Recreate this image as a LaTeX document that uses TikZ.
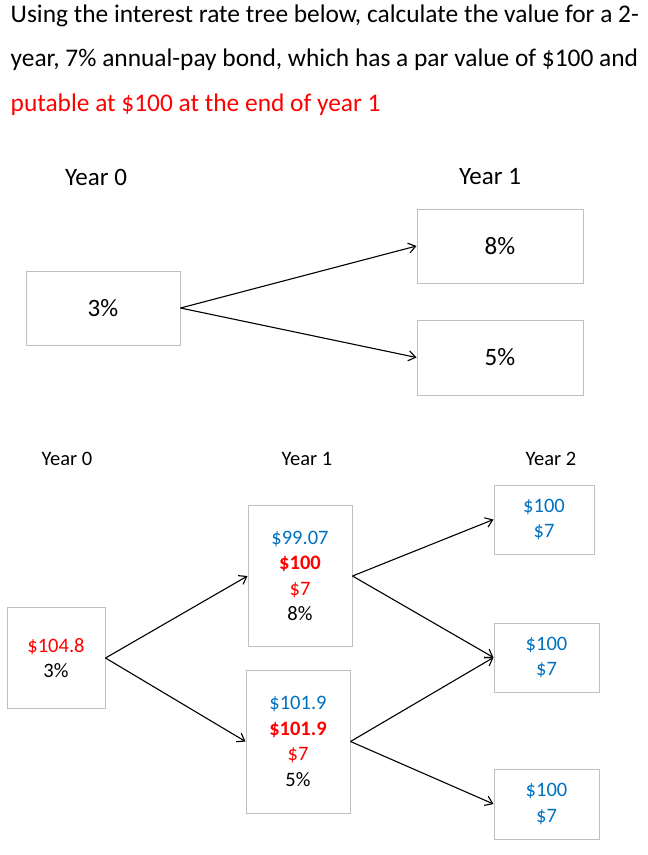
\documentclass[tikz,border=0pt]{standalone}
\usepackage{fontspec}
\setmainfont{Carlito}
\usepackage{tikz}
\usetikzlibrary{arrows.meta, positioning}
\usepackage{xcolor}
\definecolor{putred}{HTML}{FF0000}
\definecolor{valblue}{HTML}{0070C0}
\definecolor{boxgray}{HTML}{BFBFBF}
\tikzset{%
	rate box/.style={
		draw=boxgray,
		line width=1pt,
		inner sep=0pt,
		align=center
	},
	big text/.style={
		font=\fontsize{25}{30}\selectfont
	},
	small text/.style={
		font=\fontsize{20.5}{25.5}\selectfont
	},
	question line/.style={
		anchor=base west,
		inner sep=0pt,
		font=\fontsize{25.4}{30}\selectfont
	},
	branch/.style={
		-{Straight Barb[length=7pt,width=10pt]},
		line width=1.1pt
	},
}

\begin{document}
\begin{tikzpicture}[x=1pt,y=-1pt]
			\useasboundingbox (0,0) rectangle (648,855);

			% Draw the question
			\node[question line] (q1) at (10.5,22) {Using the interest rate tree below, calculate the value for a 2-};
			\node[question line] (q2) at (10.5,66) {year, 7\% annual-pay bond, which has a par value of \$100 and};
			\node[question line, text=putred] (q3) at (10.5,111) {putable at \$100 at the end of year 1};

			% Draw the rate tree
			\node[big text] (ty0) at (96,177) {Year 0};
			\node[big text] (ty1) at (490,177) {Year 1};
			\node[rate box, big text, minimum width=154pt, minimum height=74pt] (r0) at (103,308) {3\%};
			\node[rate box, big text, minimum width=166pt, minimum height=74pt] (rup) at (500,246) {8\%};
			\node[rate box, big text, minimum width=166pt, minimum height=75pt] (rdn) at (500,357.5) {5\%};

			% Draw the arrow
			\draw[branch] (r0.east) -- (rup.west);
			\draw[branch] (r0.east) -- (rdn.west);

			% Draw the value tree
			\node[small text] (by0) at (67,459) {Year 0};
			\node[small text] (by1) at (307,459) {Year 1};
			\node[small text] (by2) at (551,459) {Year 2};
			\node[rate box, small text, minimum width=98pt, minimum height=101pt] (v0) at (56,658)
				{\textcolor{putred}{\$104.8}\\3\%};
			\node[rate box, small text, minimum width=104pt, minimum height=141pt] (vup) at (300,576)
				{\textcolor{valblue}{\$99.07}\\\textcolor{putred}{\textbf{\$100}}\\\textcolor{putred}{\$7}\\8\%};
			\node[rate box, small text, minimum width=104pt, minimum height=143pt] (vdn) at (298,741.5)
				{\textcolor{valblue}{\$101.9}\\\textcolor{putred}{\textbf{\$101.9}}\\\textcolor{putred}{\$7}\\5\%};
			\node[rate box, small text, text=valblue, minimum width=100pt, minimum height=69pt] (vuu) at (544,519.5) {\$100\\\$7};
			\node[rate box, small text, text=valblue, minimum width=105pt, minimum height=69pt] (vud) at (546.5,657.5) {\$100\\\$7};
			\node[rate box, small text, text=valblue, minimum width=105pt, minimum height=70pt] (vdd) at (546.5,804) {\$100\\\$7};

			% Draw the arrow
			\draw[branch] (v0.east) -- (vup.west);
			\draw[branch] (v0.east) -- (vdn.west);
			\draw[branch] (vup.east) -- (vuu.west);
			\draw[branch] (vup.east) -- (vud.west);
			\draw[branch] (vdn.east) -- (vud.west);
			\draw[branch] (vdn.east) -- (vdd.west);

		\end{tikzpicture}
\end{document}
